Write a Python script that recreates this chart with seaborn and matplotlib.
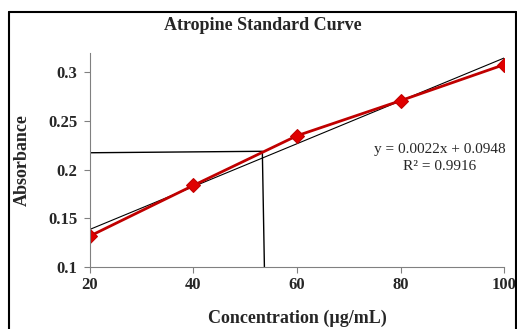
import matplotlib
matplotlib.use("Agg")
import matplotlib.pyplot as plt
import seaborn as sns
import pandas as pd
import numpy as np
from matplotlib.lines import Line2D

concentration = [20, 40, 60, 80, 100]
absorbance = [0.132, 0.184, 0.235, 0.271, 0.308]
slope = 0.0022
intercept = 0.0948
r_squared = 0.9916
sample_x = [20, 53.3, 53.7]
sample_y = [0.2175, 0.219, 0.1]
x_ticks = [20, 40, 60, 80, 100]
y_ticks = [0.1, 0.15, 0.2, 0.25, 0.3]

sns.set_style("white")
plt.rcParams['font.family'] = ['Liberation Serif', 'DejaVu Serif']

fig = plt.figure(figsize=(5.17, 3.29), dpi=100)
ax = fig.add_axes([0.174, 0.188, 0.801, 0.651])

df = pd.DataFrame({"Concentration": concentration, "Absorbance": absorbance})
trend_x = np.array([concentration[0], concentration[-1]])
trend = pd.DataFrame({"x": trend_x, "y": slope * trend_x + intercept})
ref = pd.DataFrame({"x": sample_x, "y": sample_y})

sns.lineplot(data=ref, x="x", y="y", ax=ax, color="black", linewidth=1.0, sort=False)
sns.lineplot(data=trend, x="x", y="y", ax=ax, color="black", linewidth=0.8)
sns.lineplot(data=df, x="Concentration", y="Absorbance", ax=ax, color="#C00000",
             linewidth=2.0, marker="D", markersize=7, markerfacecolor="#E00000",
             markeredgecolor="#C00000")

ax.set_xlim(20, 100)
ax.set_ylim(0.1, 0.32)
ax.set_xticks(x_ticks)
ax.set_yticks(y_ticks)
ax.set_xticklabels([str(t) for t in x_ticks])
ax.set_yticklabels(["0.1", "0.15", "0.2", "0.25", "0.3"])
for lbl in ax.get_xticklabels() + ax.get_yticklabels():
    lbl.set_fontweight("bold")
    lbl.set_fontsize(12)
ax.tick_params(axis="y", direction="out", length=4, width=0.8, color="#808080",
               pad=5, left=True)
ax.tick_params(axis="x", direction="out", length=4, width=0.8, color="#808080",
               pad=3, bottom=True)
for s in ["top", "right"]:
    ax.spines[s].set_visible(False)
for s in ["left", "bottom"]:
    ax.spines[s].set_color("#808080")
    ax.spines[s].set_linewidth(0.8)

ax.set_xlabel("Concentration (µg/mL)", fontsize=13, fontweight="bold")
ax.set_ylabel("Absorbance", fontsize=13, fontweight="bold")
ax.xaxis.set_label_coords(0.5, -0.24)
ax.yaxis.set_label_coords(-0.164, 0.5)
ax.xaxis.label.set_va("center")
ax.yaxis.label.set_va("center")
fig.text(0.509, 0.922, "Atropine Standard Curve", ha="center", va="center",
         fontsize=13, fontweight="bold")
ax.text(0.845, 0.51, f"y = {slope}x + {intercept}\nR² = {r_squared}",
        transform=ax.transAxes, ha="center", va="center", fontsize=11,
        linespacing=1.4)

# outer frame
fig.add_artist(Line2D([0.017, 0.017], [0, 0.964], transform=fig.transFigure, color="black", lw=1.5))
fig.add_artist(Line2D([0.017, 0.998], [0.964, 0.964], transform=fig.transFigure, color="black", lw=1.5))
fig.add_artist(Line2D([0.998, 0.998], [0, 0.964], transform=fig.transFigure, color="black", lw=1.5))

fig.savefig("out.png", dpi=100)
